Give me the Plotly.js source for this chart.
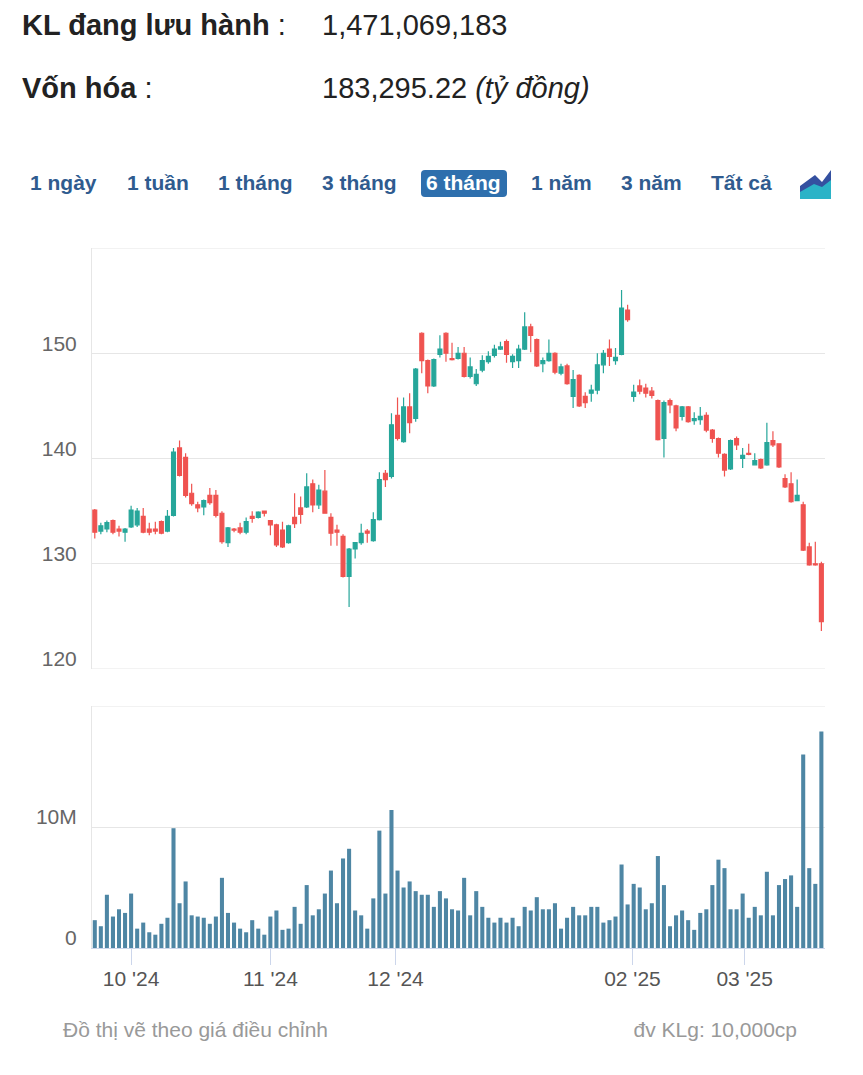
<!DOCTYPE html>
<html>
<head>
<meta charset="utf-8">
<script src="https://cdn.plot.ly/plotly-3.0.1.min.js"></script>
<style>
  html, body { margin:0; padding:0; background:#fff; width:863px; height:1075px; overflow:hidden; }
  body { position:relative; font-family: "Liberation Sans", Arial, sans-serif; }
  #chart { position:absolute; left:0; top:0; width:863px; height:1075px; }
  .t { position:absolute; white-space:nowrap; z-index:2; }
  .hdr { font-size:29px; line-height:34px; color:#222; }
  .btn { font-size:21px; line-height:26px; font-weight:bold; color:#2f5b8f; top:170px; }
  .foot { font-size:21px; line-height:24px; color:#999; top:1018px; }
</style>
</head>
<body>
<div id="chart"></div>

<div class="t hdr" style="left:22px; top:8px;"><b>KL đang lưu hành</b> :</div>
<div class="t hdr" style="left:322px; top:8px;">1,471,069,183</div>
<div class="t hdr" style="left:22px; top:71px;"><b>Vốn hóa</b> :</div>
<div class="t hdr" style="left:322px; top:71px;">183,295.22 <i>(tỷ đồng)</i></div>

<div class="t btn" style="left:30px;">1 ngày</div>
<div class="t btn" style="left:127px;">1 tuần</div>
<div class="t btn" style="left:218px;">1 tháng</div>
<div class="t btn" style="left:322px;">3 tháng</div>
<div class="t" style="left:421px; top:170px; width:86px; height:27px; background:#2e6fad; border-radius:4px; z-index:1;"></div>
<div class="t btn" style="left:426px; color:#fff;">6 tháng</div>
<div class="t btn" style="left:531px;">1 năm</div>
<div class="t btn" style="left:621px;">3 năm</div>
<div class="t btn" style="left:711px;">Tất cả</div>
<svg class="t" style="left:800px; top:170px;" width="31" height="29" viewBox="0 0 31 29">
  <polygon points="0,16 15,5 22,12 31,0 31,29 0,29" fill="#3450a0"/>
  <polygon points="0,22 14,14 22,17 31,10 31,29 0,29" fill="#2bb3c7"/>
</svg>

<div class="t foot" style="left:63px;">Đồ thị vẽ theo giá điều chỉnh</div>
<div class="t foot" style="right:66px;">đv KLg: 10,000cp</div>

<script>
const dates = [
 '2024-09-23','2024-09-24','2024-09-25','2024-09-26','2024-09-27','2024-09-30',
 '2024-10-01','2024-10-02','2024-10-03','2024-10-04','2024-10-07','2024-10-08','2024-10-09','2024-10-10','2024-10-11',
 '2024-10-14','2024-10-15','2024-10-16','2024-10-17','2024-10-18','2024-10-21','2024-10-22','2024-10-23','2024-10-24','2024-10-25',
 '2024-10-28','2024-10-29','2024-10-30','2024-10-31',
 '2024-11-01','2024-11-04','2024-11-05','2024-11-06','2024-11-07','2024-11-08','2024-11-11','2024-11-12','2024-11-13','2024-11-14','2024-11-15',
 '2024-11-18','2024-11-19','2024-11-20','2024-11-21','2024-11-22','2024-11-25','2024-11-26','2024-11-27','2024-11-28','2024-11-29',
 '2024-12-02','2024-12-03','2024-12-04','2024-12-05','2024-12-06','2024-12-09','2024-12-10','2024-12-11','2024-12-12','2024-12-13',
 '2024-12-16','2024-12-17','2024-12-18','2024-12-19','2024-12-20','2024-12-23','2024-12-24','2024-12-25','2024-12-26','2024-12-27',
 '2024-12-30','2024-12-31',
 '2025-01-02','2025-01-03','2025-01-06','2025-01-07','2025-01-08','2025-01-09','2025-01-10','2025-01-13','2025-01-14','2025-01-15',
 '2025-01-16','2025-01-17','2025-01-20','2025-01-21','2025-01-22','2025-01-23','2025-01-24',
 '2025-02-03','2025-02-04','2025-02-05','2025-02-06','2025-02-07','2025-02-10','2025-02-11','2025-02-12','2025-02-13',
 '2025-02-17','2025-02-18','2025-02-19','2025-02-20','2025-02-21','2025-02-24','2025-02-25','2025-02-26','2025-02-27','2025-02-28',
 '2025-03-03','2025-03-04','2025-03-05','2025-03-06','2025-03-07','2025-03-10','2025-03-11','2025-03-12','2025-03-13','2025-03-14',
 '2025-03-17','2025-03-18','2025-03-19'
];

const open = [
 135.1,133.1,133.3,134.1,133.3,133.0,133.5,133.7,134.5,133.3,133.3,134.0,133.1,134.6,141.0,140.1,136.7,135.6,135.4,136.5,
 136.5,134.8,132.0,133.3,133.4,133.0,134.5,134.4,135.0,134.1,133.7,133.2,132.0,134.4,135.3,135.4,137.6,135.6,136.9,134.4,
 133.2,132.6,128.8,131.4,132.0,133.1,132.2,134.2,138.6,138.3,144.1,141.6,144.9,143.8,151.9,149.3,146.9,149.9,151.9,149.5,
 149.5,150.0,147.8,147.1,148.4,149.2,149.8,150.4,151.1,149.2,149.3,150.4,152.5,151.3,149.0,149.3,150.0,148.1,148.8,145.9,
 147.9,145.9,146.2,146.5,148.9,150.4,149.3,149.9,154.1,145.9,146.9,146.7,146.4,145.5,141.9,145.5,145.0,144.0,144.9,143.6,
 143.7,144.1,142.7,141.9,140.4,139.0,141.9,140.0,140.5,139.4,139.9,139.4,141.7,141.4,138.1,137.6,136.0,135.6,131.6,130.0,
 130.0
];
const high = [
 135.2,133.9,134.1,134.2,133.6,133.4,135.5,135.3,135.3,133.9,134.0,134.1,135.1,141.0,141.7,140.5,137.6,135.9,136.1,137.2,
 137.0,135.0,133.5,133.4,133.9,134.4,135.0,135.0,135.0,134.1,133.8,134.0,133.7,136.7,136.4,138.6,138.0,137.5,138.9,134.8,
 133.7,132.8,131.5,132.0,133.8,133.3,134.9,138.7,138.9,144.3,145.8,145.8,146.2,148.6,152.0,149.4,149.5,151.7,152.0,151.0,
 150.6,150.6,149.6,148.5,149.8,150.2,150.8,151.1,151.3,149.9,150.8,153.9,152.8,151.4,149.6,151.3,150.1,149.0,149.0,148.4,
 148.0,146.3,147.0,150.0,150.3,151.3,150.5,156.0,154.6,147.0,147.5,147.1,146.8,145.6,145.5,145.7,145.1,145.0,145.0,144.4,
 144.9,144.4,142.8,142.0,140.5,141.8,142.1,141.0,141.4,140.5,140.0,143.4,142.6,141.4,138.5,138.7,138.0,135.9,132.0,132.1,
 130.2
];
const low = [
 132.4,132.8,133.0,132.8,132.6,132.1,133.4,133.5,132.9,132.7,132.8,132.8,133.0,134.5,138.3,136.3,135.5,134.9,134.6,135.6,
 134.4,131.9,131.6,133.0,132.8,132.8,133.9,134.3,134.5,132.7,131.6,131.5,131.9,133.4,133.8,135.3,134.9,135.2,134.8,131.7,
 131.7,128.7,125.9,130.5,131.8,132.0,132.1,134.1,137.3,138.1,141.7,141.5,142.4,143.5,148.1,146.2,146.8,149.6,149.2,149.3,
 149.4,147.7,147.6,146.9,148.2,149.0,149.6,150.3,149.1,148.6,148.6,150.3,150.1,148.7,148.2,149.2,148.0,147.9,147.0,144.8,
 144.9,144.8,145.4,146.1,148.1,148.8,148.9,149.8,153.0,145.4,146.1,145.8,145.7,141.7,140.1,144.3,142.6,143.6,143.4,143.2,
 143.2,142.5,141.5,140.1,138.3,138.9,140.8,139.1,140.3,139.4,139.0,139.3,141.1,139.1,137.2,135.8,136.0,131.2,129.8,129.8,
 123.6
];
const close = [
 133.0,133.6,133.9,133.0,133.1,133.3,135.1,135.0,133.0,133.0,133.1,132.9,134.5,140.6,138.4,136.5,135.7,135.3,136.0,135.8,
 134.6,132.1,133.4,133.2,133.0,134.0,134.3,134.9,134.8,133.7,131.8,131.6,133.6,133.8,134.7,137.3,135.6,137.0,134.8,132.9,
 133.0,128.8,131.4,132.0,132.9,132.9,134.2,138.0,138.0,143.2,141.9,144.9,143.4,148.5,149.3,146.9,149.4,150.4,150.0,149.4,
 150.0,147.8,148.7,148.0,149.3,149.7,150.4,150.6,149.9,149.7,150.4,152.5,151.7,148.8,149.3,150.0,148.2,148.7,147.1,147.5,
 145.0,145.3,146.5,148.9,150.0,149.7,149.6,154.3,153.2,146.3,146.4,146.2,146.0,141.8,145.3,145.1,142.9,144.9,143.5,143.8,
 144.0,142.7,141.9,140.5,138.9,141.7,141.3,140.3,140.4,139.8,139.1,141.5,141.3,139.2,137.3,135.9,136.5,131.3,129.9,129.9,
 124.5
];
// volume, millions of shares
const volumeM = [
 2.3,1.8,4.4,2.6,3.2,2.9,4.5,1.6,2.1,1.3,1.1,2.0,2.5,9.9,3.7,5.5,2.7,2.6,2.5,2.0,
 2.6,5.8,2.9,2.1,1.6,1.3,2.3,1.6,1.1,2.6,3.1,1.5,1.6,3.4,2.0,5.2,2.7,3.2,4.5,6.4,
 3.7,7.4,8.2,3.1,2.7,1.6,4.1,9.7,4.5,11.4,6.4,5.0,5.5,4.7,4.4,4.4,3.4,4.7,4.1,3.2,
 3.1,5.8,2.7,4.7,3.4,2.5,2.1,2.5,2.1,2.5,1.8,3.4,3.1,4.2,3.2,3.2,3.7,1.6,2.5,3.4,
 2.7,2.7,3.4,3.4,2.1,2.3,2.6,6.9,3.6,5.3,5.0,3.2,3.7,7.6,5.2,1.8,2.7,3.1,2.3,1.5,
 2.9,3.2,5.2,7.3,6.6,3.2,3.2,4.5,2.5,3.4,2.7,6.3,2.7,5.2,5.7,6.0,3.4,16.0,6.6,5.3,
 17.9
];

const priceRange = [120, 160];
const priceTicks = [120,130,140,150,160];
const priceTickText = ['120','130','140','150',''];
const volRange = [0, 20];
const volTicks = [0,10,20];
const volTickText = ['0','10M',''];
const monthStarts = ['2024-10-01','2024-11-01','2024-12-01','2025-02-01','2025-03-01'];
const monthLabels = ["10 '24","11 '24","12 '24","02 '25","03 '25"];

// ordinal position of a calendar day between trading days
function ordinalPos(day) {
  const t = Date.parse(day);
  for (let i = 0; i < dates.length; i++) {
    const ti = Date.parse(dates[i]);
    if (ti === t) return i;
    if (ti > t) {
      const tp = Date.parse(dates[i-1]);
      return i - 1 + (t - tp) / (ti - tp);
    }
  }
  return dates.length - 1;
}
const monthPos = monthStarts.map(ordinalPos);

const W = 863, H = 1075;
const xDom = [92/W, 825/W];
const priceDom = [1 - 669/H, 1 - 248/H];
const volDom = [1 - 948/H, 1 - 706/H];
const UP = '#26a69a', DOWN = '#ef5350';
const GRID = '#e6e6e6';
const FONT = '"Liberation Sans", Arial, sans-serif';

const traces = [
  {
    type:'candlestick', x:dates, open:open, high:high, low:low, close:close,
    xaxis:'x', yaxis:'y', whiskerwidth:0,
    increasing:{line:{color:UP, width:1.2}, fillcolor:UP},
    decreasing:{line:{color:DOWN, width:1.2}, fillcolor:DOWN},
    hoverinfo:'skip', showlegend:false
  },
  {
    type:'bar', x:dates, y:volumeM, xaxis:'x2', yaxis:'y2',
    marker:{color:'#4e86a4', line:{width:0}},
    hoverinfo:'skip', showlegend:false
  }
];

const tickFont = {family:FONT, size:21, color:'#666'};
const xRange = [-0.46, dates.length - 0.4];

// edge gridlines (first and last tick of each pane) which sit on the plot border
const edgeLines = [
  {yref:'y', y:priceRange[0]}, {yref:'y', y:priceRange[1]},
  {yref:'y2', y:volRange[1]}
].map(e => ({type:'line', xref:'x domain', x0:0, x1:1, yref:e.yref, y0:e.y, y1:e.y,
             line:{color:GRID, width:1}, layer:'below'}));

const layout = {
  width:W, height:H,
  margin:{l:0, r:0, t:0, b:0},
  paper_bgcolor:'rgba(0,0,0,0)', plot_bgcolor:'#fff',
  showlegend:false,
  boxgap:0.2, boxgroupgap:0.2,
  bargap:0.33,
  shapes: edgeLines,
  xaxis:{
    type:'category', categoryorder:'array', categoryarray:dates,
    domain:xDom, anchor:'y', range:xRange,
    showticklabels:false, ticks:'', showgrid:false, zeroline:false, showline:false,
    rangeslider:{visible:false}, fixedrange:true
  },
  yaxis:{
    domain:priceDom, anchor:'x', range:priceRange,
    tickmode:'array', tickvals:priceTicks, ticktext:priceTickText,
    showgrid:true, gridcolor:GRID, gridwidth:1,
    showline:true, linecolor:GRID, linewidth:1,
    ticks:'', zeroline:false, tickfont:tickFont,
    ticklabelshift:-10, ticklabelstandoff:10, fixedrange:true
  },
  xaxis2:{
    type:'category', categoryorder:'array', categoryarray:dates,
    domain:xDom, anchor:'y2', range:xRange,
    tickmode:'array', tickvals:monthPos, ticktext:monthLabels,
    ticks:'outside', ticklen:16, tickcolor:'#ccd6eb', tickwidth:1,
    showline:true, linecolor:'#ccd6eb', linewidth:1,
    showgrid:false, zeroline:false,
    tickfont:{family:FONT, size:21, color:'#555'},
    ticklabelstandoff:-4,
    fixedrange:true
  },
  yaxis2:{
    domain:volDom, anchor:'x2', range:volRange,
    tickmode:'array', tickvals:volTicks, ticktext:volTickText,
    showgrid:true, gridcolor:GRID, gridwidth:1,
    showline:true, linecolor:GRID, linewidth:1,
    ticks:'', zeroline:false, tickfont:tickFont,
    ticklabelshift:-10, ticklabelstandoff:10, fixedrange:true
  }
};

Plotly.newPlot('chart', traces, layout, {staticPlot:true, displayModeBar:false});
</script>
</body>
</html>
